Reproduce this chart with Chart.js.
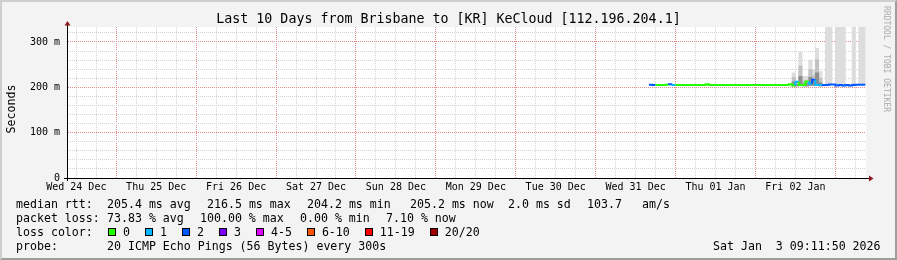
<!DOCTYPE html>
<html>
<head>
<meta charset="utf-8">
<script src="https://cdn.jsdelivr.net/npm/chart.js@4/dist/chart.umd.min.js"></script>
<style>
body { margin: 0; background: #fff; }
#frame { position: absolute; left: 0; top: 0; width: 897px; height: 260px; box-sizing: border-box;
  background: #f3f3f3; border: 2px solid; border-color: #cfcfcf #9e9e9e #9e9e9e #cfcfcf; }
canvas { position: absolute; left: 0; top: 0; }
.t { position: absolute; font-family: "DejaVu Sans Mono", monospace; white-space: pre; color: #000;
  font-size: 11.6px; line-height: 14px; }
#title { left: 0; width: 897px; text-align: center; top: 11px; font-size: 13.3px; line-height: 16px; }
#ylab { left: 11px; top: 109px; transform: translate(-50%, -50%) rotate(-90deg); }
#mark { left: 886px; top: 59px; transform: translate(-50%, -50%) rotate(90deg); font-size: 8px; color: #ababab; }
#lossrow { left: 108px; top: 225px; display: flex; align-items: center; height: 14px; }
#lossrow .sq { width: 6px; height: 6px; border: 1px solid #000; margin-right: 7px; }
#lossrow .lb { margin-right: 15px; }
</style>
</head>
<body>
<div id="frame"></div>
<canvas id="c" width="897" height="260"></canvas>
<div class="t" id="title">Last 10 Days from Brisbane to [KR] KeCloud [112.196.204.1]</div>
<div class="t" id="ylab">Seconds</div>
<div class="t" id="mark">RRDTOOL / TOBI OETIKER</div>

<div class="t" style="left:16px;top:197px">median rtt:</div>
<div class="t" style="left:107px;top:197px">205.4 ms avg</div>
<div class="t" style="left:207px;top:197px">216.5 ms max</div>
<div class="t" style="left:307px;top:197px">204.2 ms min</div>
<div class="t" style="left:410px;top:197px">205.2 ms now</div>
<div class="t" style="left:508px;top:197px">2.0 ms sd</div>
<div class="t" style="left:587px;top:197px">103.7</div>
<div class="t" style="left:642px;top:197px">am/s</div>

<div class="t" style="left:16px;top:211px">packet loss:</div>
<div class="t" style="left:107px;top:211px">73.83 % avg</div>
<div class="t" style="left:200px;top:211px">100.00 % max</div>
<div class="t" style="left:300px;top:211px">0.00 % min</div>
<div class="t" style="left:386px;top:211px">7.10 % now</div>

<div class="t" style="left:16px;top:225px">loss color:</div>
<div class="t" id="lossrow"></div>

<div class="t" style="left:16px;top:239px">probe:</div>
<div class="t" style="left:107px;top:239px">20 ICMP Echo Pings (56 Bytes) every 300s</div>
<div class="t" style="left:713px;top:239px">Sat Jan  3 09:11:50 2026</div>

<script>
// x axis is hours after the graph start (Wed 24 Dec 09:11:50)
const SPAN_HOURS = 240;
const FIRST_NOON = 2.8;
const DAY_LABELS = ['Wed 24 Dec', 'Thu 25 Dec', 'Fri 26 Dec', 'Sat 27 Dec', 'Sun 28 Dec',
  'Mon 29 Dec', 'Tue 30 Dec', 'Wed 31 Dec', 'Thu 01 Jan', 'Fri 02 Jan'];

const Y_MAX = 333;
const Y_LABEL_VALUES = [0, 100, 200, 300];
const Y_LABEL_TEXT = ['0', '100 m', '200 m', '300 m'];

const LOSS_LABELS = ['0', '1', '2', '3', '4-5', '6-10', '11-19', '20/20'];
const LOSS_UPPER = [0, 1, 2, 3, 5, 10, 19, 20];
const LOSS_COLORS = ['#26ff00', '#00b8ff', '#0059ff', '#7e00ff', '#dd00ff', '#ff5500', '#ff0000', '#a10000'];

// hourly samples, first one starts at this hour
const SAMPLE_START = 174.8;
const MEDIAN_MS = [
  205.5, 205.5, 205, 205, 205, 205, 205.5, 207, 205, 205,
  205, 205, 205, 205, 205, 205, 205, 205, 207, 205,
  205, 205, 205, 205, 205, 205, 205, 205, 205, 205,
  205, 205, 205, 205, 205, 205, 205, 205, 205, 205,
  205, 205, 205, 207, 204, 212, 205, 205, 213, 208,
  216.5, 205, 205, 205, 205, 206, 206, 204, 205, 204,
  205, 204, 205, 205.5, 205.5
];
const LOST_PINGS = [
  2, 2, 0, 0, 0, 0, 2, 1, 0, 0,
  0, 0, 0, 0, 0, 0, 0, 0, 0, 0,
  0, 0, 0, 0, 0, 0, 0, 0, 0, 0,
  0, 0, 0, 0, 0, 0, 0, 0, 0, 0,
  0, 0, 0, 0, 1, 0, 0, 0, 1, 2,
  1, 1, 2, 2, 2, 2, 2, 2, 2, 2,
  2, 2, 2, 2, 2
];

// smoke (ping spread) from sample 43 on
const SMOKE_FROM = 43;
const SMOKE_MIN  = [203, 203, 204, 203, 203, 204, 204, 205, 203, null, 206, 206, null, 206, 206, 206, null, null, 206, null, 206, 206];
const SMOKE_MAX  = [232, 212, 277, 224, 224, 260, 239, 286, 235, null, 350, 350, null, 350, 350, 350, null, null, 350, null, 350, 350];
const SMOKE_MID  = [222, 208, 247, 214, 215, 239, 226, 261, 220, null, null, null, null, null, null, null, null, null, null, null, null, null];
const SMOKE_CORE = [212, 206, 224, 208, 209, 222, 215, 232, 210, null, null, null, null, null, null, null, null, null, null, null, null, null];

const MINOR = '#d4d4d4';
const MAJOR = '#e48a8a';

// loss colour legend
const row = document.getElementById('lossrow');
LOSS_LABELS.forEach((l, i) => {
  const sq = document.createElement('span');
  sq.className = 'sq';
  sq.style.background = LOSS_COLORS[i];
  const lb = document.createElement('span');
  lb.className = 'lb';
  lb.textContent = l;
  row.appendChild(sq);
  row.appendChild(lb);
});

const lossColor = n => LOSS_COLORS[LOSS_UPPER.findIndex(u => n <= u)];

const medianPoints = MEDIAN_MS.map((v, k) => ({ x: SAMPLE_START + k, y: v }));
medianPoints.push({ x: SAMPLE_START + MEDIAN_MS.length, y: MEDIAN_MS[MEDIAN_MS.length - 1] });

function smokeBand(top) {
  const out = [];
  top.forEach((t, i) => {
    if (t != null) out.push({ x: SAMPLE_START + SMOKE_FROM + i + 0.5, y: [SMOKE_MIN[i], t] });
  });
  return out;
}

const xTicks = [];
for (let h = FIRST_NOON; h < SPAN_HOURS; h += 6) xTicks.push({ value: h });
const yTicks = [];
for (let v = 0; v < Y_MAX; v += 20) yTicks.push({ value: v });

const frame = {
  id: 'frame',
  beforeDraw(chart) {
    const { ctx, chartArea: a } = chart;
    ctx.save();
    ctx.fillStyle = '#fff';
    ctx.fillRect(a.left, a.top, a.right - a.left, a.bottom - a.top);
    ctx.restore();
  },
  afterDraw(chart) {
    const { ctx, chartArea: a } = chart;
    const x0 = Math.round(a.left) + 0.5, y0 = Math.round(a.bottom) + 0.5;
    ctx.save();
    ctx.strokeStyle = '#000';
    ctx.lineWidth = 1;
    ctx.beginPath();
    ctx.moveTo(x0, a.top); ctx.lineTo(x0, a.top - 3);
    ctx.moveTo(x0, a.bottom); ctx.lineTo(x0, a.bottom + 3);
    ctx.moveTo(a.right, y0); ctx.lineTo(a.right + 4, y0);
    ctx.moveTo(a.left - 3, y0); ctx.lineTo(a.left, y0);
    ctx.stroke();
    ctx.fillStyle = '#8b1a1a';
    ctx.beginPath();
    ctx.moveTo(x0, a.top - 6); ctx.lineTo(x0 - 3, a.top - 1.5); ctx.lineTo(x0 + 3, a.top - 1.5);
    ctx.closePath(); ctx.fill();
    ctx.beginPath();
    ctx.moveTo(a.right + 7.5, y0); ctx.lineTo(a.right + 3, y0 - 3); ctx.lineTo(a.right + 3, y0 + 3);
    ctx.closePath(); ctx.fill();
    ctx.restore();
  }
};

Chart.defaults.font.family = '"DejaVu Sans Mono", monospace';
Chart.defaults.color = '#000';

const barOpts = { type: 'bar', grouped: false, barPercentage: 1, categoryPercentage: 1, borderWidth: 0 };

new Chart(document.getElementById('c'), {
  type: 'bar',
  data: {
    datasets: [
      { ...barOpts, data: smokeBand(SMOKE_MAX), backgroundColor: '#dddddd', order: 3 },
      { ...barOpts, data: smokeBand(SMOKE_MID), backgroundColor: '#c2c2c2', order: 2 },
      { ...barOpts, data: smokeBand(SMOKE_CORE), backgroundColor: '#8e8e8e', order: 1 },
      {
        type: 'line', data: medianPoints, order: 0, stepped: 'after',
        borderWidth: 2, pointRadius: 0, borderColor: LOSS_COLORS[0],
        segment: { borderColor: c => lossColor(LOST_PINGS[c.p0DataIndex]) }
      }
    ]
  },
  options: {
    responsive: false,
    animation: false,
    layout: { padding: { top: 27, right: 31, bottom: 62, left: 0 } },
    plugins: { legend: { display: false }, tooltip: { enabled: false }, title: { display: false } },
    scales: {
      x: {
        type: 'linear', min: 0, max: SPAN_HOURS, offset: false, z: 1,
        afterBuildTicks: s => { s.ticks = xTicks.slice(); },
        afterFit: s => { s.height = 20; },
        grid: { offset: false, drawTicks: false, lineWidth: 1,
          color: c => (c.index % 4 === 2 ? MAJOR : MINOR) },
        border: { color: '#000', dash: [1, 1] },
        ticks: { autoSkip: false, maxRotation: 0, padding: 3, font: { size: 10 },
          callback: (v, i) => (i % 4 === 0 ? DAY_LABELS[i / 4] : '') }
      },
      y: {
        min: 0, max: Y_MAX, z: 1,
        afterBuildTicks: s => { s.ticks = yTicks.slice(); },
        afterFit: s => { s.width = 67; },
        grid: { drawTicks: false, lineWidth: 1,
          color: c => (c.tick.value === 0 ? 'rgba(0,0,0,0)' : c.tick.value % 100 === 0 ? MAJOR : MINOR) },
        border: { color: '#000', dash: [1, 1] },
        ticks: { autoSkip: false, padding: 7, font: { size: 10 },
          callback: v => { const i = Y_LABEL_VALUES.indexOf(v); return i >= 0 ? Y_LABEL_TEXT[i] : ''; } }
      }
    }
  },
  plugins: [frame]
});
</script>
</body>
</html>
